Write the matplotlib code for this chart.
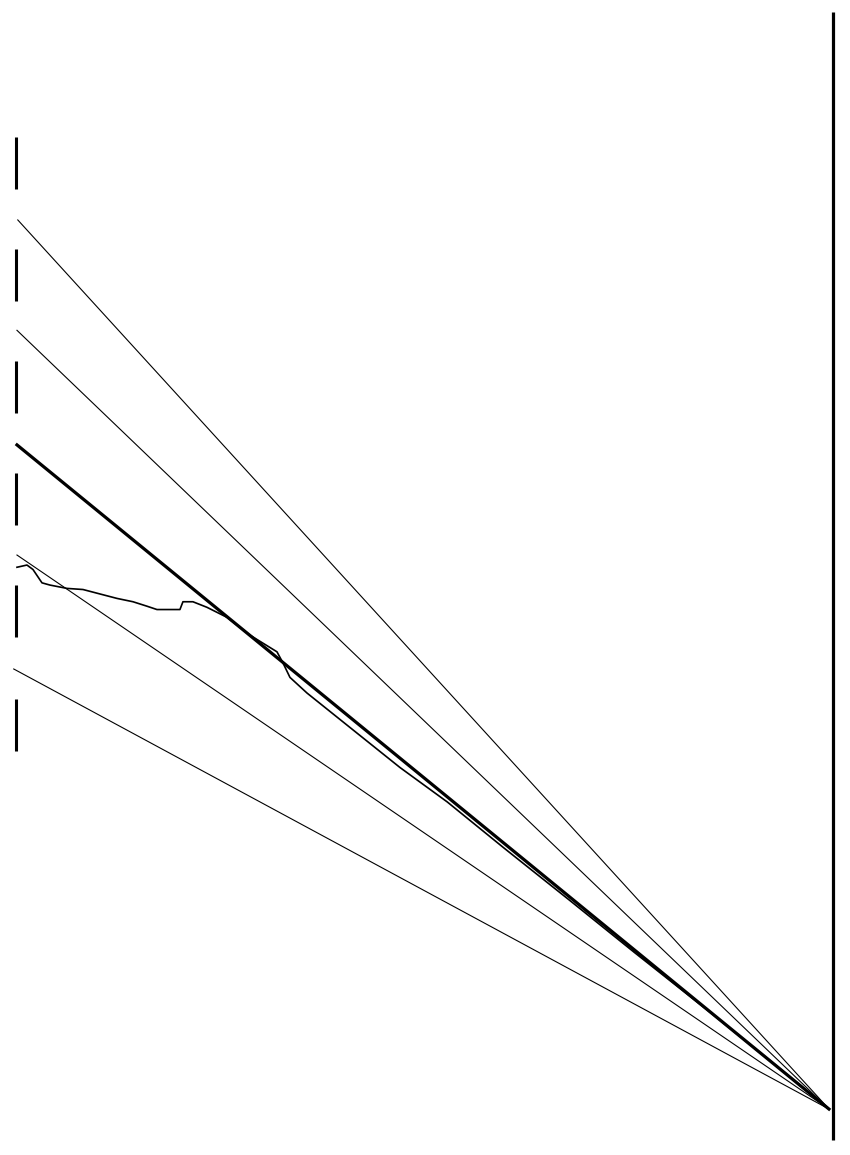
import matplotlib
matplotlib.use("Agg")
import matplotlib.pyplot as plt
import numpy as np

# fan of straight lines: value at the left end, all meet at u=1, v=0
thin_starts = [8.0, 7.0, 4.98, 3.94]
thin_left_u = [0.001, 0.0, 0.0, -0.004]
thick_start = 5.97

# short vertical marks on the left edge (bottom, top of each dash)
dash_low = [3.22, 4.24, 5.25, 6.26, 7.26, 8.27]
dash_high = [3.69, 4.71, 5.72, 6.72, 7.73, 8.74]

# measured curve
curve_u = [0.0, 0.0123, 0.0197, 0.0308, 0.0406, 0.0616, 0.0813, 0.1022, 0.1232,
           0.1429, 0.1601, 0.1724, 0.2007, 0.2044, 0.2167, 0.2340, 0.2586, 0.2869,
           0.3202, 0.3276, 0.3362, 0.3571, 0.4101, 0.4717, 0.530, 0.600, 0.680,
           0.760, 0.850, 0.930, 1.0]
curve_v = [4.87, 4.89, 4.85, 4.73, 4.71, 4.68, 4.67, 4.63, 4.59,
           4.56, 4.52, 4.49, 4.49, 4.56, 4.56, 4.51, 4.42, 4.26,
           4.11, 4.01, 3.88, 3.74, 3.43, 3.07, 2.76, 2.345, 1.88,
           1.41, 0.89, 0.42, 0.0]

# right-hand axis bar
right_u = 1.005
right_v = (-0.28, 9.86)

fig = plt.figure(figsize=(8.5, 11.55), dpi=100)
ax = fig.add_axes([0, 0, 1, 1])
ax.set_xlim(-0.0209, 1.0259)
ax.set_ylim(-0.413, 9.969)
ax.axis('off')

for s, u0 in zip(thin_starts, thin_left_u):
    u = np.array([u0, 1.0])
    ax.plot(u, s * (1 - u), color='black', lw=0.8)
u = np.array([0.0, 1.0])
ax.plot(u, thick_start * (1 - u), color='black', lw=2.3)

ax.plot(curve_u, curve_v, color='black', lw=1.2)

ax.vlines([-0.001] * len(dash_low), dash_low, dash_high, color='black', lw=2.2)
ax.vlines(right_u, right_v[0], right_v[1], color='black', lw=2.3)

fig.savefig('out.png', dpi=100, facecolor='white')
